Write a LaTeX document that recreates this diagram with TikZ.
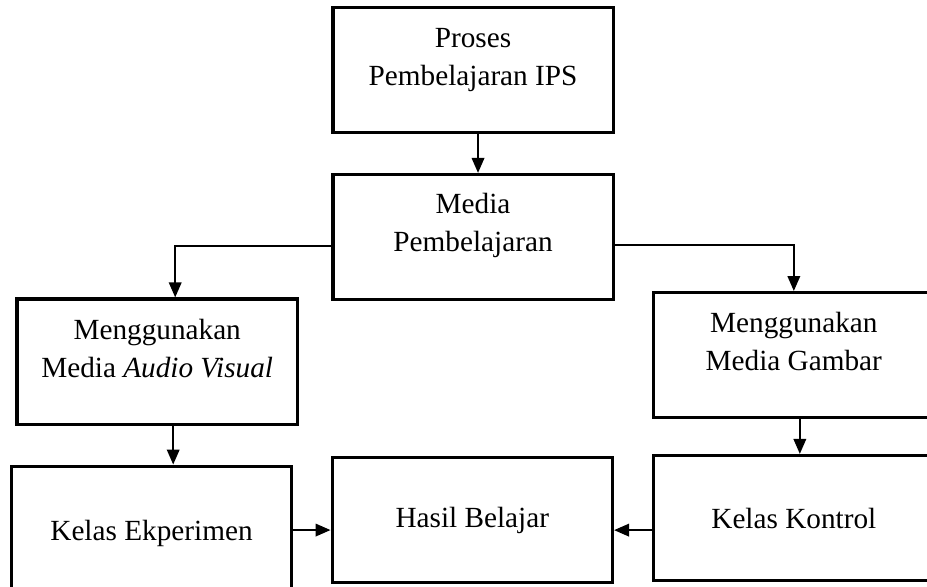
\documentclass[tikz,border=0pt]{standalone}
\usepackage{fontspec}
\setmainfont{Liberation Serif}
\usepackage{tikz}
\usetikzlibrary{arrows.meta}
\tikzstyle{box} = [font=\fontsize{11.7}{15.2}\selectfont, rectangle, minimum width=3.94cm, minimum height=1.76cm, align=center, draw=black, line width=1.3pt]
\tikzstyle{arrow} = [line width=0.8pt, -{Triangle[length=6pt,width=5pt]}]

\begin{document}
\begin{tikzpicture}
  \clip (-6.65,0.984) rectangle (6.382,-7.268);
  \node (proses) [box]{Proses\\Pembelajaran IPS\\[-4.8pt]~};
  \node (media) [box, below of=proses, yshift=-1.35cm]{Media\\Pembelajaran\\[-3pt]~};
  \node (audio) [box, left of=media, xshift=-3.44cm, yshift=-1.75cm]{Menggunakan\\Media \textit{Audio Visual}\\[-4.7pt]~};
  \node (gambar) [box, right of=media, xshift=3.51cm, yshift=-1.66cm]{Menggunakan\\Media Gambar\\[-4pt]~};
  \node (eksperimen) [box, below of=audio, xshift=-0.08cm, yshift=-1.41cm, minimum height=1.88cm]{Kelas Ekperimen};
  \node (hasil) [box, right of=eksperimen, xshift=3.51cm, yshift=0.18cm]{Hasil Belajar};
  \node (kontrol) [box, below of=gambar, yshift=-1.29cm]{Kelas Kontrol};
  \draw[arrow] ([xshift=2pt]proses.south) -- ([xshift=2pt]media.north);
  \draw[arrow] ([yshift=-3.6pt]media.west) -| ([xshift=7.2pt]audio.north);
  \draw[arrow] ([yshift=-3.2pt]media.east) -| (gambar.north);
  \draw[arrow] ([xshift=6.4pt]audio.south) -- ([xshift=6.4pt]audio.south |- eksperimen.north);
  \draw[arrow] ([xshift=2.4pt]gambar.south) -- ([xshift=2.4pt]gambar.south |- kontrol.north);
  \draw[arrow] ([yshift=1.2pt]eksperimen.east) -- ([yshift=1.2pt]eksperimen.east -| hasil.west);
  \draw[arrow] ([yshift=-4.8pt]kontrol.west) -- ([yshift=-4.8pt]kontrol.west -| hasil.east);
\end{tikzpicture}
\end{document}
